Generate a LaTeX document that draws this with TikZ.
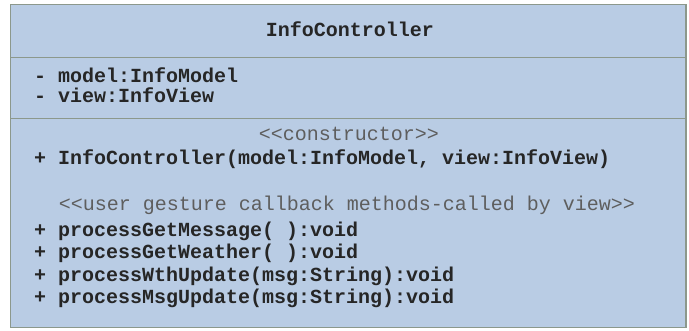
\documentclass[tikz,border=0pt]{standalone}
\usepackage{fontspec}
\setmonofont{Liberation Mono}
\begin{document}
\begin{tikzpicture}[x=1pt,y=-1pt,
  classbox/.style={draw=boxline, line width=1.4pt, fill=boxfill},
  divider/.style={draw=boxline, line width=1.4pt},
  member/.style={anchor=base west, inner sep=0pt, text=membertext, font=\ttfamily\bfseries\fontsize{20}{22}\selectfont},
  title/.style={anchor=base, inner sep=0pt, text=membertext, font=\ttfamily\bfseries\fontsize{20}{22}\selectfont},
  stereo/.style={anchor=base, inner sep=0pt, text=stereotext, font=\ttfamily\fontsize{20}{22}\selectfont}]
\definecolor{boxfill}{HTML}{B9CCE4}
\definecolor{boxline}{HTML}{8C988C}
\definecolor{membertext}{HTML}{262626}
\definecolor{stereotext}{HTML}{5E5E5E}
\useasboundingbox (0,0) rectangle (689,331);
% class frame and compartment dividers
\draw[classbox] (10.5,4.5) rectangle (686,327.5);
\coordinate (d1l) at (10.5,57.5);  \coordinate (d1r) at (686,57.5);
\coordinate (d2l) at (10.5,118.5); \coordinate (d2r) at (686,118.5);
\draw[divider] (d1l) -- (d1r);
\draw[divider] (d2l) -- (d2r);
% class name
\node[title] (name) at (350,37) {InfoController};
% attributes
\node[member] (attr1) at (34,83) {- model:InfoModel};
\node[member] (attr2) at (34,102.5) {- view:InfoView};
% constructor
\node[stereo] (st1) at (349,141) {<{}<constructor>{}>};
\node[member] (ctor) at (34,164.5) {+ InfoController(model:InfoModel, view:InfoView)};
% callback methods
\node[stereo] (st2) at (347,211) {<{}<user gesture callback methods-called by view>{}>};
\node[member] (m1) at (34,236.5) {+ processGetMessage( ):void};
\node[member] (m2) at (34,258.5) {+ processGetWeather( ):void};
\node[member] (m3) at (34,281.5) {+ processWthUpdate(msg:String):void};
\node[member] (m4) at (34,303.5) {+ processMsgUpdate(msg:String):void};
\end{tikzpicture}
\end{document}
